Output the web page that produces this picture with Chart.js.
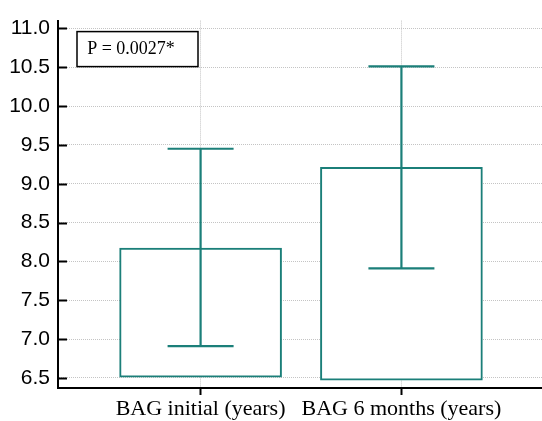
<!DOCTYPE html>
<html lang="en">
<head>
    <meta charset="UTF-8">
    <title>BAG</title>
    <script src="https://cdn.jsdelivr.net/npm/chart.js@4.4.1/dist/chart.umd.min.js"></script>
    <style>
        html, body { margin: 0; padding: 0; background: #fff; }
        #wrap { width: 542px; height: 421px; }
    </style>
</head>
<body>
<div id="wrap"><canvas id="myChart" width="542" height="421"></canvas></div>

<script>
    // data
    const categories = ['BAG initial (years)', 'BAG 6 months (years)'];
    const positions = [1, 2];
    const barBase = [6.51, 6.47];
    const barTop = [8.17, 9.21];
    const errLow = [6.91, 7.91];
    const errHigh = [9.45, 10.51];
    const yTicks = [6.5, 7.0, 7.5, 8.0, 8.5, 9.0, 9.5, 10.0, 10.5, 11.0];
    const pText = 'P = 0.0027*';

    const teal = '#1b7f79';

    // error bars, inward y ticks and the p-value box
    const extras = {
        id: 'extras',
        afterDatasetsDraw(chart) {
            const ctx = chart.ctx;
            const x = chart.scales.x, y = chart.scales.y;
            const area = chart.chartArea;
            ctx.save();
            ctx.strokeStyle = teal;
            ctx.lineWidth = 2.2;
            for (let i = 0; i < positions.length; i++) {
                const px = x.getPixelForValue(positions[i]);
                const lo = y.getPixelForValue(errLow[i]);
                const hi = y.getPixelForValue(errHigh[i]);
                ctx.beginPath();
                ctx.moveTo(px, lo);
                ctx.lineTo(px, hi);
                ctx.moveTo(px - 33, lo);
                ctx.lineTo(px + 33, lo);
                ctx.moveTo(px - 33, hi);
                ctx.lineTo(px + 33, hi);
                ctx.stroke();
            }
            // y ticks pointing inside
            ctx.strokeStyle = '#000';
            ctx.lineWidth = 2;
            yTicks.forEach(v => {
                const py = Math.round(y.getPixelForValue(v)) + 0.5;
                ctx.beginPath();
                ctx.moveTo(area.left, py);
                ctx.lineTo(area.left + 9, py);
                ctx.stroke();
            });
            // p-value box
            ctx.lineWidth = 1.5;
            ctx.fillStyle = '#fff';
            ctx.fillRect(area.left + 19, area.top + 11, 121, 35);
            ctx.strokeRect(area.left + 19, area.top + 11, 121, 35);
            ctx.fillStyle = '#000';
            ctx.font = '18px "Liberation Serif", serif';
            ctx.textAlign = 'center';
            ctx.textBaseline = 'middle';
            ctx.fillText(pText, area.left + 73, area.top + 29);
            ctx.restore();
        }
    };

    const ctx = document.getElementById('myChart').getContext('2d');
    const myChart = new Chart(ctx, {
        type: 'bar',
        data: {
            datasets: [{
                data: positions.map((p, i) => ({x: p, y: [barBase[i], barTop[i]]})),
                backgroundColor: '#fff',
                borderColor: teal,
                borderWidth: 2,
                borderSkipped: false,
                barThickness: 162
            }]
        },
        options: {
            responsive: false,
            animation: false,
            layout: { padding: { top: 17, right: 0, left: 0, bottom: 0 } },
            plugins: { legend: { display: false }, tooltip: { enabled: false } },
            scales: {
                x: {
                    type: 'linear',
                    min: 0.29,
                    max: 2.70,
                    offset: false,
                    afterBuildTicks: s => { s.ticks = positions.map(v => ({value: v})); },
                    afterFit: s => { s.height = 33; },
                    ticks: {
                        callback: v => categories[positions.indexOf(v)],
                        color: '#000',
                        font: { family: '"Liberation Serif", serif', size: 22 },
                        padding: 1,
                        maxRotation: 0,
                        autoSkip: false
                    },
                    grid: {
                        offset: false,
                        color: '#c4c4c4',
                        lineWidth: 1,
                        tickLength: 7,
                        tickColor: '#000',
                        tickWidth: 2,
                        tickBorderDash: []
                    },
                    border: { display: true, color: '#000', width: 2, dash: [1, 1] }
                },
                y: {
                    min: 6.37,
                    max: 11.1,
                    afterBuildTicks: s => { s.ticks = yTicks.map(v => ({value: v})); },
                    afterFit: s => { s.width = 58; },
                    ticks: {
                        callback: v => v.toFixed(1),
                        color: '#000',
                        font: { family: '"Liberation Sans", Arial, sans-serif', size: 21 },
                        padding: 8
                    },
                    grid: {
                        color: '#c4c4c4',
                        lineWidth: 1,
                        drawTicks: false
                    },
                    border: { display: true, color: '#000', width: 2, dash: [1, 1] }
                }
            }
        },
        plugins: [extras]
    });
</script>
</body>
</html>
